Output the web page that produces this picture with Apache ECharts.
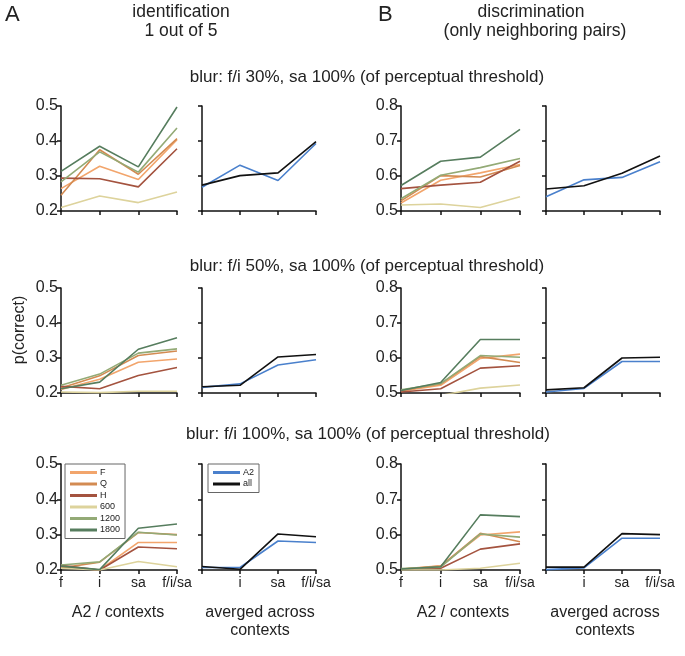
<!DOCTYPE html>
<html><head><meta charset="utf-8">
<script src="https://cdn.jsdelivr.net/npm/echarts@6/dist/echarts.min.js"></script>
<style>html,body{margin:0;padding:0;background:#fff}#c{width:685px;height:656px}</style>
</head><body><div id="c"></div>
<script>
const categories = ['f', 'i', 'sa', 'f/i/sa'];
const conditions = ['F', 'Q', 'H', '600', '1200', '1800'];
const averageNames = ['A2', 'all'];
const yTicksId = [0.2, 0.3, 0.4, 0.5];
const yTicksDis = [0.5, 0.6, 0.7, 0.8];

// rows: blur f/i 30%, 50%, 100%; order of arrays follows `conditions`
const id30 = [
  [0.264, 0.328, 0.290, 0.404],
  [0.245, 0.375, 0.305, 0.407],
  [0.294, 0.292, 0.269, 0.378],
  [0.210, 0.243, 0.224, 0.254],
  [0.283, 0.369, 0.311, 0.437],
  [0.313, 0.385, 0.326, 0.497]
];
const id30avg = [[0.268, 0.331, 0.287, 0.393], [0.274, 0.301, 0.309, 0.398]];
const dis30 = [
  [0.523, 0.588, 0.609, 0.633],
  [0.529, 0.601, 0.597, 0.630],
  [0.564, 0.574, 0.582, 0.642],
  [0.517, 0.520, 0.510, 0.541],
  [0.535, 0.602, 0.624, 0.650],
  [0.573, 0.642, 0.654, 0.733]
];
const dis30avg = [[0.541, 0.589, 0.596, 0.641], [0.563, 0.572, 0.608, 0.657]];

const id50 = [
  [0.210, 0.239, 0.288, 0.297],
  [0.214, 0.249, 0.307, 0.320],
  [0.219, 0.212, 0.250, 0.273],
  [0.203, 0.201, 0.205, 0.205],
  [0.222, 0.254, 0.314, 0.326],
  [0.212, 0.231, 0.325, 0.358]
];
const id50avg = [[0.216, 0.226, 0.280, 0.295], [0.218, 0.222, 0.303, 0.310]];
const dis50 = [
  [0.505, 0.522, 0.599, 0.611],
  [0.507, 0.526, 0.604, 0.587],
  [0.503, 0.512, 0.571, 0.578],
  [0.490, 0.493, 0.514, 0.523],
  [0.509, 0.527, 0.607, 0.602],
  [0.507, 0.530, 0.653, 0.653]
];
const dis50avg = [[0.503, 0.513, 0.590, 0.590], [0.509, 0.515, 0.600, 0.602]];

const id100 = [
  [0.208, 0.200, 0.278, 0.278],
  [0.206, 0.222, 0.306, 0.300],
  [0.213, 0.200, 0.265, 0.260],
  [0.205, 0.200, 0.224, 0.209],
  [0.214, 0.223, 0.307, 0.299],
  [0.211, 0.201, 0.318, 0.330]
];
const id100avg = [[0.207, 0.207, 0.282, 0.278], [0.210, 0.202, 0.302, 0.294]];
const dis100 = [
  [0.503, 0.512, 0.599, 0.608],
  [0.502, 0.511, 0.604, 0.580],
  [0.502, 0.505, 0.559, 0.574],
  [0.500, 0.500, 0.505, 0.519],
  [0.504, 0.508, 0.602, 0.593],
  [0.503, 0.509, 0.656, 0.651]
];
const dis100avg = [[0.501, 0.506, 0.590, 0.590], [0.508, 0.508, 0.603, 0.600]];

const rowTitles = [
  'blur: f/i 30%, sa 100% (of perceptual threshold)',
  'blur: f/i 50%, sa 100% (of perceptual threshold)',
  'blur: f/i 100%, sa 100% (of perceptual threshold)'
];

const condColors = ['#f2a56c', '#d38b52', '#a4533f', '#ddd39c', '#93aa76', '#567d5e'];
const avgColors = ['#4a80cc', '#111111'];

const panels = [
  [id30, id30avg, dis30, dis30avg],
  [id50, id50avg, dis50, dis50avg],
  [id100, id100avg, dis100, dis100avg]
];

const rowGeom = [{top: 106, h: 105}, {top: 288, h: 105}, {top: 464, h: 106}];
const colGeom = [{left: 61, w: 116}, {left: 202, w: 114}, {left: 401, w: 119}, {left: 546, w: 114}];

const FONT = 'Liberation Sans, Arial, sans-serif';
const grid = [], xAxis = [], yAxis = [], series = [];
let gi = 0;
rowGeom.forEach((r, ri) => {
  colGeom.forEach((c, ci) => {
    grid.push({left: c.left, top: r.top, width: c.w, height: r.h, containLabel: false});
    const ticks = ci < 2 ? yTicksId : yTicksDis;
    const hideFirst = ci % 2 === 1;
    xAxis.push({
      type: 'category', gridIndex: gi, data: categories, boundaryGap: false,
      axisLine: {lineStyle: {color: '#111', width: 1.5}},
      axisTick: {show: true, length: 4, lineStyle: {color: '#111', width: 1.5}},
      axisLabel: {show: ri === 2, interval: 0, hideOverlap: false, color: '#222', fontSize: 14, fontFamily: FONT, margin: 6,
        formatter: (v, idx) => (hideFirst && idx === 0) ? '' : v},
      splitLine: {show: false}
    });
    yAxis.push({
      type: 'value', gridIndex: gi, min: ticks[0], max: ticks[ticks.length - 1], interval: 0.1,
      axisLine: {show: true, lineStyle: {color: '#111', width: 1.5}},
      axisTick: {show: true, length: 4, lineStyle: {color: '#111', width: 1.5}},
      axisLabel: {show: ci === 0 || ci === 2, color: '#222', fontSize: 16, fontFamily: FONT, margin: 3,
        formatter: v => v.toFixed(1)},
      splitLine: {show: false}
    });
    const data = panels[ri][ci];
    const names = (ci % 2 === 0) ? conditions : averageNames;
    const colors = (ci % 2 === 0) ? condColors : avgColors;
    data.forEach((vals, k) => {
      series.push({
        type: 'line', name: names[k], xAxisIndex: gi, yAxisIndex: gi, data: vals,
        showSymbol: false, symbol: 'none', clip: true, animation: false,
        lineStyle: {color: colors[k], width: 1.6}, itemStyle: {color: colors[k]}, silent: true
      });
    });
    gi++;
  });
});

const legendCommon = {
  orient: 'vertical', icon: 'rect', itemWidth: 27, itemHeight: 3, itemGap: 2.5,
  borderColor: '#666', borderWidth: 1, padding: [4, 5, 4, 5], selectedMode: false,
  backgroundColor: '#fff',
  textStyle: {fontSize: 9, fontFamily: FONT, color: '#222', lineHeight: 9, padding: [0, 0, 0, -2]}
};

const txt = (x, y, text, size, align) => ({
  type: 'text', x: x, y: y,
  style: {text: text, fontSize: size, fontFamily: FONT, fill: '#222', align: align || 'center', verticalAlign: 'middle'}
});

const graphic = [
  txt(5, 15, 'A', 22, 'left'),
  txt(378, 15, 'B', 22, 'left'),
  txt(181, 12, 'identification', 17.5),
  txt(181, 31, '1 out of 5', 17.5),
  txt(531, 12, 'discrimination', 17.5),
  txt(535, 31, '(only neighboring pairs)', 17.5),
  txt(367, 77, rowTitles[0], 17),
  txt(367, 266, rowTitles[1], 17),
  txt(368, 434, rowTitles[2], 17),
  txt(118, 613, 'A2 / contexts', 16),
  txt(260, 613, 'averged across', 16),
  txt(260, 631, 'contexts', 16),
  txt(463, 613, 'A2 / contexts', 16),
  txt(605, 613, 'averged across', 16),
  txt(605, 631, 'contexts', 16),
  {type: 'text', x: 20, y: 330, rotation: Math.PI / 2,
    style: {text: 'p(correct)', fontSize: 16, fontFamily: FONT, fill: '#222', align: 'center', verticalAlign: 'middle'}}
];

const chart = echarts.init(document.getElementById('c'), null, {renderer: 'canvas'});
chart.setOption({
  animation: false,
  backgroundColor: '#fff',
  grid, xAxis, yAxis, series, graphic,
  legend: [
    Object.assign({}, legendCommon, {left: 65, top: 464, data: conditions}),
    Object.assign({}, legendCommon, {left: 208, top: 464, data: averageNames})
  ]
});
</script></body></html>
